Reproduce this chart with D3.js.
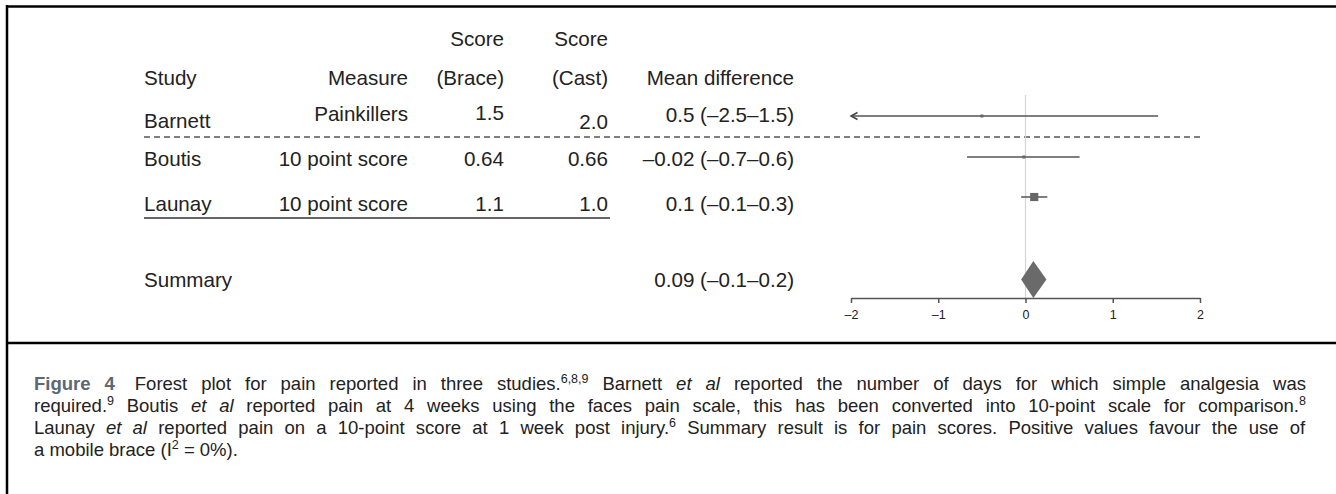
<!DOCTYPE html>
<html>
<head>
<meta charset="utf-8">
<script src="https://cdn.jsdelivr.net/npm/d3@7"></script>
<style>
  html, body { margin: 0; padding: 0; background: #fff; }
  svg { display: block; }
  text { font-family: "Liberation Sans", Arial, sans-serif; fill: #222; }
</style>
</head>
<body>
<svg id="chart" width="1336" height="494"></svg>
<script>
// ---------- data ----------
const studies     = ["Barnett", "Boutis", "Launay"];
const measures    = ["Painkillers", "10 point score", "10 point score"];
const scoreBrace  = ["1.5", "0.64", "1.1"];
const scoreCast   = ["2.0", "0.66", "1.0"];
const mdLabels    = ["0.5 (–2.5–1.5)", "–0.02 (–0.7–0.6)", "0.1 (–0.1–0.3)"];
const means       = [-0.5, -0.02, 0.1];
const lowers      = [-2.5, -0.67, -0.05];
const uppers      = [1.52, 0.62, 0.25];
const weights     = [3, 5, 92];
const summaryLabel = "Summary";
const summaryText  = "0.09 (–0.1–0.2)";
const summaryMean  = 0.09;
const summaryLower = -0.05;
const summaryUpper = 0.24;
const xTicks       = [-2, -1, 0, 1, 2];
const xTickLabels  = ["–2", "–1", "0", "1", "2"];
const headers1     = ["", "", "Score", "Score", ""];
const headers2     = ["Study", "Measure", "(Brace)", "(Cast)", "Mean difference"];

// ---------- layout ----------
const svg = d3.select("#chart");
const W = 1336, H = 494;
const x = d3.scaleLinear().domain([-2, 2]).range([851, 1200]);
const rowY = d3.scaleOrdinal().domain(studies).range([116, 157, 197]);
const textBase = [122, 166, 211];
const sumY = 279.5, sumBase = 287;
const axisY = 298;
const size = d3.scaleSqrt().domain([0, 100]).range([0, 8.5]);

// frame
svg.append("line").attr("x1", 7).attr("x2", 7).attr("y1", 5).attr("y2", H)
  .attr("stroke", "#000").attr("stroke-width", 2.5);
svg.append("line").attr("x1", 6).attr("x2", W).attr("y1", 6.5).attr("y2", 6.5)
  .attr("stroke", "#000").attr("stroke-width", 2.5);
svg.append("line").attr("x1", 6).attr("x2", W).attr("y1", 343).attr("y2", 343)
  .attr("stroke", "#000").attr("stroke-width", 2.5);

const cols = [
  {x: 144, anchor: "start"},
  {x: 408, anchor: "end"},
  {x: 504, anchor: "end"},
  {x: 608, anchor: "end"},
  {x: 794, anchor: "end"}
];
const fs = 20.6;

cols.forEach((c, i) => {
  if (headers1[i]) svg.append("text").attr("x", c.x).attr("y", 46)
    .attr("text-anchor", c.anchor).style("font-size", fs + "px").text(headers1[i]);
  svg.append("text").attr("x", c.x).attr("y", 85)
    .attr("text-anchor", c.anchor).style("font-size", fs + "px").text(headers2[i]);
});

const colData = [studies, measures, scoreBrace, scoreCast, mdLabels];
const rowOffsets = [
  [6, 0, 0],
  [-1, 0, 0],
  [-2, 0, 0],
  [7, 0, 0],
  [0, 0, 0]
];
colData.forEach((arr, ci) => {
  arr.forEach((t, ri) => {
    svg.append("text").attr("x", cols[ci].x).attr("y", textBase[ri] + rowOffsets[ci][ri])
      .attr("text-anchor", cols[ci].anchor).style("font-size", fs + "px").text(t);
  });
});
svg.append("text").attr("x", cols[0].x).attr("y", sumBase).style("font-size", fs + "px").text(summaryLabel);
svg.append("text").attr("x", cols[4].x).attr("y", sumBase).attr("text-anchor", "end")
  .style("font-size", fs + "px").text(summaryText);

// dashed separator
svg.append("line").attr("x1", 144).attr("x2", 1200).attr("y1", 137).attr("y2", 137)
  .attr("stroke", "#555").attr("stroke-width", 1.6).attr("stroke-dasharray", "6,4");
// solid underline
svg.append("line").attr("x1", 144).attr("x2", 610).attr("y1", 218).attr("y2", 218)
  .attr("stroke", "#666").attr("stroke-width", 2);

// zero line
svg.append("line").attr("x1", x(0)).attr("x2", x(0)).attr("y1", 95).attr("y2", axisY)
  .attr("stroke", "#d4d4d4").attr("stroke-width", 1.2);

const [xmin, xmax] = x.domain();
studies.forEach((s, i) => {
  const y = rowY(s);
  const lo = Math.max(lowers[i], xmin), hi = Math.min(uppers[i], xmax);
  svg.append("line").attr("x1", x(lo)).attr("x2", x(hi)).attr("y1", y).attr("y2", y)
    .attr("stroke", "#555").attr("stroke-width", 1.5);
  if (lowers[i] < xmin) {
    svg.append("path")
      .attr("d", `M${x(xmin) + 6.5},${y - 3.5} L${x(xmin)},${y} L${x(xmin) + 6.5},${y + 3.5}`)
      .attr("fill", "none").attr("stroke", "#444").attr("stroke-width", 1.5);
  }
  const sz = Math.max(3, size(weights[i]));
  svg.append("rect").attr("x", x(means[i]) - sz / 2).attr("y", y - sz / 2)
    .attr("width", sz).attr("height", sz).attr("fill", "#666");
});

svg.append("path")
  .attr("d", `M${x(summaryLower)},${sumY} L${x(summaryMean)},${axisY - 37} L${x(summaryUpper)},${sumY} L${x(summaryMean)},${axisY} Z`)
  .attr("fill", "#6a6a6a");

const axis = d3.axisBottom(x).tickValues(xTicks).tickFormat((d, i) => xTickLabels[i])
  .tickSize(5).tickSizeOuter(0);
const ag = svg.append("g").attr("transform", `translate(0,${axisY})`).call(axis);
ag.select(".domain").attr("stroke", "#555").attr("stroke-width", 1.5);
ag.selectAll(".tick line").attr("stroke", "#555").attr("stroke-width", 1.5);
ag.selectAll(".tick text").attr("y", 12).style("font-size", "12.5px")
  .style("font-family", "'Liberation Sans', Arial, sans-serif").attr("fill", "#333");

// ---------- caption ----------
const capFs = 18.5;
const capX = 34;
const capRight = 1306;
const capLines = [
  [{t: "Figure 4", b: true}, {t: "Forest plot for pain reported in three studies.", dx: 20}, {t: "6,8,9", sup: true},
   {t: " Barnett "}, {t: "et al", i: true}, {t: " reported the number of days for which simple analgesia was"}],
  [{t: "required."}, {t: "9", sup: true}, {t: " Boutis "}, {t: "et al", i: true},
   {t: " reported pain at 4 weeks using the faces pain scale, this has been converted into 10-point scale for comparison."}, {t: "8", sup: true}],
  [{t: "Launay "}, {t: "et al", i: true}, {t: " reported pain on a 10-point score at 1 week post injury."}, {t: "6", sup: true},
   {t: " Summary result is for pain scores. Positive values favour the use of"}],
  [{t: "a mobile brace (I"}, {t: "2", sup: true}, {t: " = 0%)."}]
];
const capBase = [390, 412, 434, 456];
const justify = [true, true, true, false];
capLines.forEach((parts, li) => {
  const tx = svg.append("text").attr("x", capX).attr("y", capBase[li])
    .style("font-size", capFs + "px").attr("xml:space", "preserve");
  let prevSup = false;
  parts.forEach(p => {
    const ts = tx.append("tspan").text(p.t);
    if (p.b) ts.style("font-weight", "bold").style("fill", "#5c6873");
    if (p.i) ts.style("font-style", "italic");
    if (p.dx) ts.attr("dx", p.dx);
    if (p.sup) { ts.style("font-size", "12.5px").attr("dy", -7.5); prevSup = true; }
    else if (prevSup) { ts.attr("dy", 7.5); prevSup = false; }
  });
  if (justify[li]) {
    const node = tx.node();
    const nSpaces = (node.textContent.match(/ /g) || []).length;
    const target = capRight - capX;
    let ws = 0;
    for (let k = 0; k < 3; k++) {
      const w = node.getBBox().width;
      ws += (target - w) / nSpaces;
      tx.style("word-spacing", ws + "px");
    }
  }
});
</script>
</body>
</html>
